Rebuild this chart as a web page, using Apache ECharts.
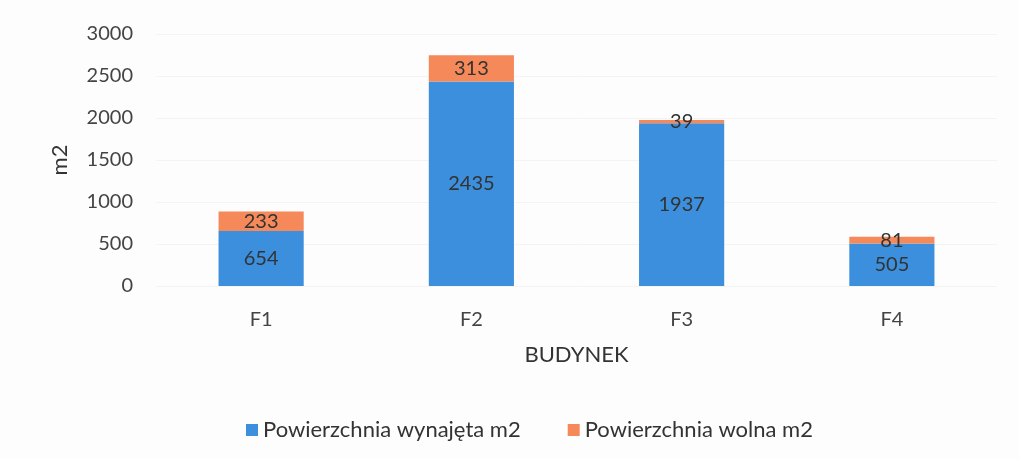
<!DOCTYPE html>
<html>
<head>
<meta charset="utf-8">
<script src="https://cdn.jsdelivr.net/npm/echarts@6/dist/echarts.min.js"></script>
<style>
  html, body { margin: 0; padding: 0; background: #fdfdfd; }
  #chart { width: 1019px; height: 459px; }
</style>
</head>
<body>
<div id="chart"></div>
<script>
const categories = ['F1', 'F2', 'F3', 'F4']
const rented = [654, 2435, 1937, 505]
const free = [233, 313, 39, 81]
const yTicks = [0, 3000, 500] // min, max, step

const font = 'Lato, "Open Sans", sans-serif'

const chart = echarts.init(document.getElementById('chart'))
chart.setOption({
  backgroundColor: '#fdfdfd',
  textStyle: { fontFamily: font },
  grid: {
    left: 156,
    right: 22,
    top: 34,
    bottom: 173
  },
  legend: {
    top: 414,
    left: 241,
    itemWidth: 12,
    itemHeight: 12,
    itemGap: 47,
    icon: 'rect',
    textStyle: { fontFamily: font, fontSize: 22, color: '#333' },
    data: ['Powierzchnia wynajęta m2', 'Powierzchnia wolna m2']
  },
  xAxis: {
    type: 'category',
    data: categories,
    name: 'BUDYNEK',
    nameLocation: 'middle',
    nameGap: 58,
    nameTextStyle: { fontSize: 22, color: '#333', fontFamily: font },
    axisLine: { show: false },
    axisTick: { show: false },
    axisLabel: { fontSize: 20, color: '#444', margin: 24 }
  },
  yAxis: {
    type: 'value',
    min: yTicks[0],
    max: yTicks[1],
    interval: yTicks[2],
    name: 'm2',
    nameLocation: 'middle',
    nameGap: 85,
    nameTextStyle: { fontSize: 22, color: '#333', fontFamily: font },
    axisLine: { show: false },
    axisTick: { show: false },
    axisLabel: {
      fontSize: 20,
      color: '#444',
      margin: 23,
      formatter: v => String(v)
    },
    splitLine: { lineStyle: { color: '#f4f4f4' } }
  },
  series: [{
    name: 'Powierzchnia wynajęta m2',
    type: 'bar',
    stack: 'total',
    barWidth: '40.5%',
    data: rented,
    itemStyle: { color: '#3b8fdc' },
    label: { show: true, position: 'inside', fontSize: 20, color: '#333', fontFamily: font }
  }, {
    name: 'Powierzchnia wolna m2',
    type: 'bar',
    stack: 'total',
    barWidth: '40.5%',
    data: free,
    itemStyle: { color: '#f5895a' },
    label: { show: true, position: 'inside', fontSize: 20, color: '#333', fontFamily: font }
  }]
})
</script>
</body>
</html>
